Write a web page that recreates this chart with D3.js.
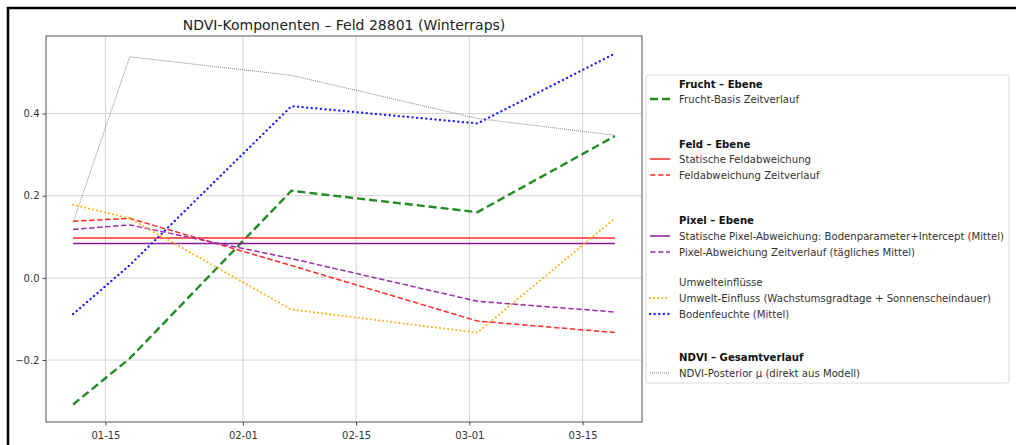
<!DOCTYPE html>
<html>
<head>
<meta charset="utf-8">
<script src="https://cdn.jsdelivr.net/npm/d3@7"></script>
<style>
  body { margin: 0; background: #fff; }
  text { font-family: "DejaVu Sans", sans-serif; }
</style>
</head>
<body>
<script>
let dates = ['2025-01-11', '2025-01-18', '2025-02-07', '2025-03-02', '2025-03-19']

let fruchtBasis = [-0.308, -0.196, 0.212, 0.160, 0.345]
let feldStatisch = [0.097, 0.097, 0.097, 0.097, 0.097]
let feldZeit = [0.138, 0.145, 0.030, -0.105, -0.133]
let pixelStatisch = [0.084, 0.084, 0.084, 0.084, 0.084]
let pixelZeit = [0.118, 0.129, 0.047, -0.057, -0.083]
let umwelt = [0.178, 0.145, -0.077, -0.133, 0.145]
let boden = [-0.088, 0.031, 0.418, 0.376, 0.546]
let ndvi = [0.135, 0.538, 0.493, 0.388, 0.347]

let xTicks = ['2025-01-15', '2025-02-01', '2025-02-15', '2025-03-01', '2025-03-15']
let yTicks = [-0.2, 0.0, 0.2, 0.4]

let series = [
  { name: 'Frucht-Basis Zeitverlauf', values: fruchtBasis, color: '#228b22', width: 2.4, dash: '8,4', cap: 'butt' },
  { name: 'Statische Feldabweichung', values: feldStatisch, color: '#ff2a2a', width: 1.5, dash: null, cap: 'butt' },
  { name: 'Feldabweichung Zeitverlauf', values: feldZeit, color: '#ff2a2a', width: 1.5, dash: '5.5,2.5', cap: 'butt' },
  { name: 'Statische Pixel-Abweichung: Bodenparameter+Intercept (Mittel)', values: pixelStatisch, color: '#8b1a9b', width: 1.5, dash: null, cap: 'butt' },
  { name: 'Pixel-Abweichung Zeitverlauf (tägliches Mittel)', values: pixelZeit, color: '#9b30a8', width: 1.5, dash: '5.5,2.5', cap: 'butt' },
  { name: 'Umwelt-Einfluss (Wachstumsgradtage + Sonnenscheindauer)', values: umwelt, color: '#ffb21a', width: 2, dash: '0.1,4', cap: 'round' },
  { name: 'Bodenfeuchte (Mittel)', values: boden, color: '#1a1aff', width: 2.3, dash: '0.1,4.5', cap: 'round' },
  { name: 'NDVI-Posterior µ (direkt aus Modell)', values: ndvi, color: '#777', width: 0.9, dash: '1,1', cap: 'butt' }
]

let legendRows = [
  { type: 'title', text: 'Frucht – Ebene', y: 84 },
  { type: 'line', s: 0, y: 99 },
  { type: 'title', text: 'Feld – Ebene', y: 144 },
  { type: 'line', s: 1, y: 159 },
  { type: 'line', s: 2, y: 175 },
  { type: 'title', text: 'Pixel – Ebene', y: 220 },
  { type: 'line', s: 3, y: 236 },
  { type: 'line', s: 4, y: 252 },
  { type: 'plain', text: 'Umwelteinflüsse', y: 282 },
  { type: 'line', s: 5, y: 298 },
  { type: 'line', s: 6, y: 314 },
  { type: 'title', text: 'NDVI – Gesamtverlauf', y: 357 },
  { type: 'line', s: 7, y: 373 }
]

let width = 1016, height = 445
let margin = { top: 36, left: 46, right: 374, bottom: 23 }

let svg = d3.select('body').append('svg')
  .attr('width', width)
  .attr('height', height)

let parse = d3.utcParse('%Y-%m-%d')
let xs = dates.map(parse)

// matplotlib style 5% padding
let xExt = d3.extent(xs)
let xPad = (xExt[1] - xExt[0]) * 0.05
let allVals = series.flatMap(s => s.values)
let yMin = d3.min(allVals), yMax = d3.max(allVals)
let yPad = (yMax - yMin) * 0.05

let x = d3.scaleUtc()
  .domain([new Date(+xExt[0] - xPad), new Date(+xExt[1] + xPad)])
  .range([margin.left, width - margin.right])

let y = d3.scaleLinear()
  .domain([yMin - yPad, yMax + yPad])
  .range([height - margin.bottom, margin.top])

// frame of the screenshot
svg.append('line').attr('x1', 7).attr('x2', width).attr('y1', 8).attr('y2', 8)
  .attr('stroke', '#000').attr('stroke-width', 2.5)
svg.append('line').attr('x1', 8).attr('x2', 8).attr('y1', 7).attr('y2', height)
  .attr('stroke', '#000').attr('stroke-width', 2.5)

// grid
let grid = svg.append('g')
grid.selectAll('.gx').data(xTicks.map(parse)).enter().append('line')
  .attr('x1', d => x(d)).attr('x2', d => x(d))
  .attr('y1', margin.top).attr('y2', height - margin.bottom)
  .attr('stroke', '#d3d3d3').attr('stroke-width', 1)
grid.selectAll('.gy').data(yTicks).enter().append('line')
  .attr('x1', margin.left).attr('x2', width - margin.right)
  .attr('y1', d => y(d)).attr('y2', d => y(d))
  .attr('stroke', '#d3d3d3').attr('stroke-width', 1)

// axes
let fmtY = d => d3.format('.1f')(d).replace('-', '−')
let xAxis = svg.append('g')
  .attr('transform', `translate(0, ${height - margin.bottom})`)
  .call(d3.axisBottom(x).tickValues(xTicks.map(parse)).tickFormat(d3.utcFormat('%m-%d')).tickSize(3.5).tickSizeOuter(0))
let yAxis = svg.append('g')
  .attr('transform', `translate(${margin.left}, 0)`)
  .call(d3.axisLeft(y).tickValues(yTicks).tickFormat(fmtY).tickSize(3.5).tickSizeOuter(0))

;[xAxis, yAxis].forEach(a => {
  a.select('.domain').remove()
  a.selectAll('.tick line').attr('stroke', '#444')
  a.selectAll('.tick text').attr('fill', '#333').attr('font-size', '10px')
    .style('font-family', '"DejaVu Sans", sans-serif')
})
xAxis.selectAll('.tick text').attr('dy', '1.05em')

// lines
let line = d3.line()
  .x((d, i) => x(xs[i]))
  .y(d => y(d))

svg.append('g').selectAll('path')
  .data(series)
  .enter()
  .append('path')
  .attr('d', d => line(d.values))
  .attr('fill', 'none')
  .attr('stroke', d => d.color)
  .attr('stroke-width', d => d.width)
  .attr('stroke-dasharray', d => d.dash)
  .attr('stroke-linecap', d => d.cap)

// plot spines
svg.append('rect')
  .attr('x', margin.left).attr('y', margin.top)
  .attr('width', width - margin.left - margin.right)
  .attr('height', height - margin.top - margin.bottom)
  .attr('fill', 'none').attr('stroke', '#555').attr('stroke-width', 1)

// title
svg.append('text')
  .attr('x', (margin.left + width - margin.right) / 2)
  .attr('y', 30)
  .attr('text-anchor', 'middle')
  .attr('font-size', '14px')
  .attr('fill', '#222')
  .text('NDVI-Komponenten – Feld 28801 (Winterraps)')

// legend
let legend = svg.append('g')
legend.append('rect')
  .attr('x', 646).attr('y', 75)
  .attr('width', 363).attr('height', 308)
  .attr('rx', 3)
  .attr('fill', '#fff')
  .attr('stroke', '#dcdcdc')
  .attr('stroke-width', 1)

legendRows.forEach(r => {
  if (r.type === 'line') {
    let s = series[r.s]
    legend.append('line')
      .attr('x1', 650).attr('x2', 670)
      .attr('y1', r.y).attr('y2', r.y)
      .attr('stroke', s.color)
      .attr('stroke-width', s.width)
      .attr('stroke-dasharray', s.dash)
      .attr('stroke-linecap', s.cap)
  }
  legend.append('text')
    .attr('x', 679)
    .attr('y', r.y + 4)
    .attr('font-size', '10.15px')
    .attr('font-weight', r.type === 'title' ? 'bold' : 'normal')
    .attr('fill', r.type === 'title' ? '#111' : '#333')
    .text(r.type === 'line' ? series[r.s].name : r.text)
})
</script>
</body>
</html>
